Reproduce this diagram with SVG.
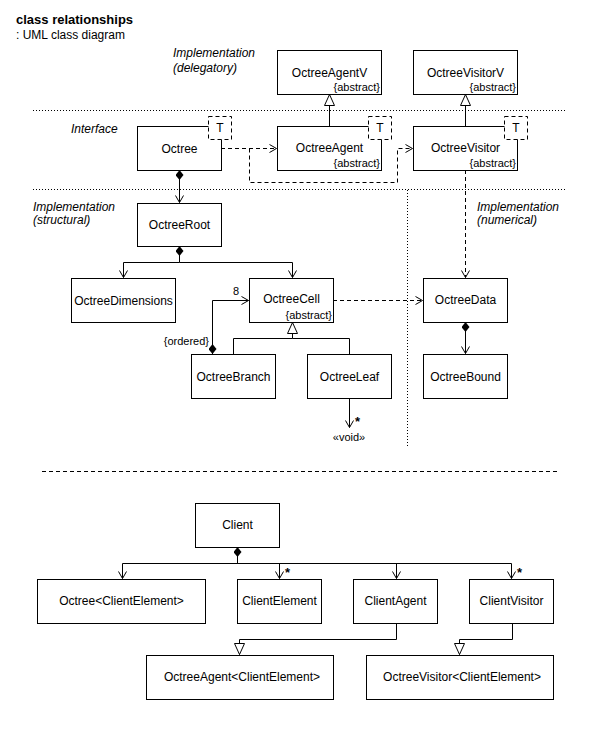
<svg xmlns="http://www.w3.org/2000/svg" width="600" height="750" viewBox="0 0 600 750">
<style>
text{font-family:"Liberation Sans",Arial,sans-serif;font-size:12px;fill:#000}
.t{font-size:13px;font-weight:bold}
.i{font-style:italic}
.n{text-anchor:middle}
.a{font-size:11px;text-anchor:end}
.s{font-size:11px}
.box{fill:#fff;stroke:#000;stroke-width:1}
.tb{fill:#fff;stroke:#000;stroke-width:1;stroke-dasharray:4 3}
.ln{fill:none;stroke:#000;stroke-width:1}
.dash{fill:none;stroke:#000;stroke-width:1;stroke-dasharray:4 3}
.dot{fill:none;stroke:#000;stroke-width:1;stroke-dasharray:1 2}
.star{font-size:13px;font-weight:bold}
</style>
<defs>
<marker id="open" viewBox="0 0 8 9" refX="7.5" refY="4.5" markerWidth="8" markerHeight="9" markerUnits="userSpaceOnUse" orient="auto">
<path d="M0.5,0.5 L7.5,4.5 L0.5,8.5" fill="none" stroke="#000" stroke-width="1"/>
</marker>
<marker id="dia" viewBox="0 0 10 8" refX="0" refY="4" markerWidth="10" markerHeight="8" markerUnits="userSpaceOnUse" orient="auto">
<path d="M0,4 L5,0 L10,4 L5,8 Z" fill="#000"/>
</marker>
<marker id="tri" viewBox="0 0 12 11" refX="11.5" refY="5.5" markerWidth="12" markerHeight="11" markerUnits="userSpaceOnUse" orient="auto">
<path d="M0.5,0.5 L11.5,5.5 L0.5,10.5 Z" fill="#fff" stroke="#000" stroke-width="1"/>
</marker>
</defs>
<rect width="600" height="750" fill="#fff"/>

<text class="t" x="16" y="24">class relationships</text>
<text x="16" y="39">: UML class diagram</text>

<g id="labels">
<text class="i" x="173" y="57">Implementation</text>
<text class="i" x="173" y="72">(delegatory)</text>
<text class="i" x="71" y="133">Interface</text>
<text class="i" x="33" y="211">Implementation</text>
<text class="i" x="33" y="224">(structural)</text>
<text class="i" x="477" y="211">Implementation</text>
<text class="i" x="477" y="224">(numerical)</text>
</g>

<g id="separators">
<path class="dot" d="M33,110.5 H567"/>
<path class="dot" d="M33,189.5 H567"/>
<path class="dot" d="M407.5,190 V448"/>
<path class="dash" d="M42,471.5 H558"/>
</g>

<g id="connectors">
<path class="ln" d="M329.5,126 V94.5" marker-end="url(#tri)"/>
<path class="ln" d="M465.5,126 V94.5" marker-end="url(#tri)"/>
<path class="dash" d="M221,148.5 H276.5" marker-end="url(#open)"/>
<path class="dash" d="M249.5,148.5 V182.5 H397.5 V148.5 H412.5" marker-end="url(#open)"/>
<path class="ln" d="M179.5,170 V202.5" marker-start="url(#dia)" marker-end="url(#open)"/>
<path class="ln" d="M179.5,246 V262.5" marker-start="url(#dia)"/>
<path class="ln" d="M179.5,262.5 H123.5 V277.5" marker-end="url(#open)"/>
<path class="ln" d="M179.5,262.5 H292.5 V277.5" marker-end="url(#open)"/>
<path class="ln" d="M212.5,354 V300.5 H248.5" marker-start="url(#dia)" marker-end="url(#open)"/>
<path class="ln" d="M233.5,354 V338.5 H292.5 V322.5" marker-end="url(#tri)"/>
<path class="ln" d="M349.5,354 V338.5 H292.5"/>
<path class="ln" d="M349.5,398 V427.5" marker-end="url(#open)"/>
<path class="dash" d="M333,300.5 H422.5" marker-end="url(#open)"/>
<path class="dash" d="M465.5,170 V277.5" marker-end="url(#open)"/>
<path class="ln" d="M465.5,322 V353.5" marker-start="url(#dia)" marker-end="url(#open)"/>
<path class="ln" d="M237.5,547 V563.5" marker-start="url(#dia)"/>
<path class="ln" d="M122.5,563.5 H511.5"/>
<path class="ln" d="M122.5,563.5 V578.5" marker-end="url(#open)"/>
<path class="ln" d="M279.5,563.5 V578.5" marker-end="url(#open)"/>
<path class="ln" d="M396.5,563.5 V578.5" marker-end="url(#open)"/>
<path class="ln" d="M511.5,563.5 V578.5" marker-end="url(#open)"/>
<path class="ln" d="M396.5,623 V639.5 H239.5 V654.5" marker-end="url(#tri)"/>
<path class="ln" d="M512.5,623 V639.5 H459.5 V654.5" marker-end="url(#tri)"/>
<text class="s" x="233" y="295">8</text>
<text class="s" x="209" y="345" text-anchor="end">{ordered}</text>
<text class="star" x="355" y="426">*</text>
<text class="s n" x="349" y="441">«void»</text>
<text class="star" x="285" y="577">*</text>
<text class="star" x="517" y="577">*</text>
</g>

<g id="OctreeAgentV"><rect class="box" x="277.5" y="50.5" width="104" height="44"/><text class="n" x="329.5" y="77">OctreeAgentV</text><text class="a" x="380" y="91">{abstract}</text></g>
<g id="OctreeVisitorV"><rect class="box" x="413.5" y="50.5" width="104" height="44"/><text class="n" x="465.5" y="77">OctreeVisitorV</text><text class="a" x="516" y="91">{abstract}</text></g>

<g id="Octree"><rect class="box" x="137.5" y="126.5" width="84" height="44"/><text class="n" x="179.5" y="153">Octree</text><rect class="tb" x="208.5" y="116.5" width="23" height="23"/><text class="n" x="220" y="132">T</text></g>
<g id="OctreeAgent"><rect class="box" x="277.5" y="126.5" width="104" height="44"/><text class="n" x="329.5" y="152">OctreeAgent</text><text class="a" x="380" y="167">{abstract}</text><rect class="tb" x="368.5" y="116.5" width="23" height="23"/><text class="n" x="380" y="132">T</text></g>
<g id="OctreeVisitor"><rect class="box" x="413.5" y="126.5" width="104" height="44"/><text class="n" x="465.5" y="152">OctreeVisitor</text><text class="a" x="516" y="167">{abstract}</text><rect class="tb" x="504.5" y="116.5" width="23" height="23"/><text class="n" x="516" y="132">T</text></g>

<g id="OctreeRoot"><rect class="box" x="137.5" y="203.5" width="84" height="43"/><text class="n" x="179.5" y="229">OctreeRoot</text></g>
<g id="OctreeDimensions"><rect class="box" x="71.5" y="278.5" width="104" height="44"/><text class="n" x="123.5" y="305">OctreeDimensions</text></g>
<g id="OctreeCell"><rect class="box" x="249.5" y="278.5" width="84" height="44"/><text class="n" x="291.5" y="303">OctreeCell</text><text class="a" x="332" y="319">{abstract}</text></g>
<g id="OctreeData"><rect class="box" x="423.5" y="278.5" width="84" height="44"/><text class="n" x="465.5" y="304">OctreeData</text></g>
<g id="OctreeBranch"><rect class="box" x="191.5" y="354.5" width="84" height="44"/><text class="n" x="233.5" y="381">OctreeBranch</text></g>
<g id="OctreeLeaf"><rect class="box" x="307.5" y="354.5" width="84" height="44"/><text class="n" x="349.5" y="381">OctreeLeaf</text></g>
<g id="OctreeBound"><rect class="box" x="423.5" y="354.5" width="84" height="44"/><text class="n" x="465.5" y="381">OctreeBound</text></g>

<g id="Client"><rect class="box" x="195.5" y="503.5" width="84" height="44"/><text class="n" x="237.5" y="529">Client</text></g>
<g id="OctreeClientElement"><rect class="box" x="37.5" y="579.5" width="168" height="44"/><text class="n" x="121.5" y="605">Octree&lt;ClientElement&gt;</text></g>
<g id="ClientElement"><rect class="box" x="237.5" y="579.5" width="84" height="44"/><text class="n" x="279.5" y="605">ClientElement</text></g>
<g id="ClientAgent"><rect class="box" x="353.5" y="579.5" width="84" height="44"/><text class="n" x="395.5" y="605">ClientAgent</text></g>
<g id="ClientVisitor"><rect class="box" x="469.5" y="579.5" width="84" height="44"/><text class="n" x="511.5" y="605">ClientVisitor</text></g>
<g id="OctreeAgentClientElement"><rect class="box" x="146.5" y="655.5" width="187" height="44"/><text class="n" x="242" y="681">OctreeAgent&lt;ClientElement&gt;</text></g>
<g id="OctreeVisitorClientElement"><rect class="box" x="366.5" y="655.5" width="187" height="44"/><text class="n" x="462" y="681">OctreeVisitor&lt;ClientElement&gt;</text></g>
</svg>
